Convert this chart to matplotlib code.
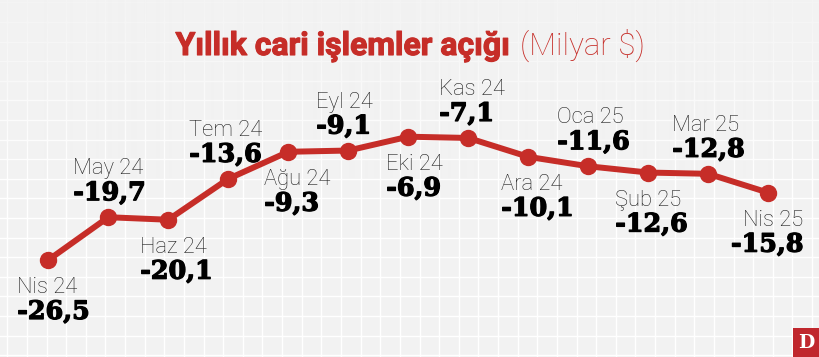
import numpy as np
import matplotlib
matplotlib.use('Agg')
import matplotlib.pyplot as plt
import matplotlib.patheffects as pe
from matplotlib.patches import Rectangle

# ---- data ----
months = ['Nis 24', 'May 24', 'Haz 24', 'Tem 24', 'Ağu 24', 'Eyl 24', 'Eki 24',
          'Kas 24', 'Ara 24', 'Oca 25', 'Şub 25', 'Mar 25', 'Nis 25']
deficit = [-26.5, -19.7, -20.1, -13.6, -9.3, -9.1, -6.9,
           -7.1, -10.1, -11.6, -12.6, -12.8, -15.8]
title_bold = 'Yıllık cari işlemler açığı'
title_unit = '(Milyar $)'
logo_text = 'D'

# ---- style ----
RED = '#c62d28'
BG = '#f2f2f2'
W, H, DPI = 820, 357, 100

fig = plt.figure(figsize=(W / DPI, H / DPI), dpi=DPI)
fig.patch.set_facecolor(BG)

# background grid paper
bg = fig.add_axes([0, 0, 1, 1], zorder=0)
bg.axis('off')
for gx in np.arange(7.3, W, 19.63):
    bg.axvline(gx, color='white', lw=1.0, zorder=1)
for gy in np.arange(2.3, H, 19.6):
    bg.axhline(gy, color='white', lw=1.0, zorder=1)
fade = np.zeros((H, 1, 4))
fade[..., :3] = matplotlib.colors.to_rgb(BG)
fade[:, 0, 3] = np.clip(1 - np.arange(H) / 180.0, 0, 1) * 0.85
bg.imshow(fade, extent=(0, W, H, 0), aspect='auto', zorder=2, interpolation='bilinear')
bg.set_xlim(0, W)
bg.set_ylim(H, 0)

# main chart
ax = fig.add_axes([0, 0, 1, 1], zorder=1)
ax.axis('off')
x = np.arange(len(months))
ax.plot(x, deficit, color=RED, lw=4.3, marker='o', ms=11.5, zorder=3)
ax.set_xlim(-0.805, 12.862)
ax.set_ylim(-41.92, 14.83)

bold_fx = [pe.withStroke(linewidth=0.9, foreground='black')]
label_dx = [-31, -35, -28, -39, -24, -32, -22, -29, -27, -31, -33, -36, 35]
for i, (m, v) in enumerate(zip(months, deficit)):
    above = (i % 2 == 1)
    ha = 'right' if i == len(months) - 1 else 'left'
    dy_m, dy_v = (43, 17) if above else (-33, -59)
    val = f'{v:.1f}'.replace('.', ',')
    ax.annotate(m, (i, v), xytext=(label_dx[i], dy_m), textcoords='offset pixels',
                ha=ha, va='baseline', fontsize=15.8, family='Roboto',
                weight='light', color='#1e1e1e', zorder=4)
    ax.annotate(val, (i, v), xytext=(label_dx[i], dy_v), textcoords='offset pixels',
                ha=ha, va='baseline', fontsize=18.3, family='DejaVu Serif',
                weight='bold', color='black', zorder=4, path_effects=bold_fx)

# title
ty = (H - 55) / H
t1 = fig.text(0, ty, title_bold, fontsize=23, weight='bold', family='Roboto',
              color=RED, va='baseline', ha='left',
              path_effects=[pe.withStroke(linewidth=0.8, foreground=RED)])
t2 = fig.text(0, ty, title_unit, fontsize=22.5, weight='light', family='Roboto',
              color=RED, va='baseline', ha='left')
fig.canvas.draw()
r = fig.canvas.get_renderer()
w1 = t1.get_window_extent(r).width
w2 = t2.get_window_extent(r).width
gap = 8
x0 = (W - (w1 + gap + w2)) / 2
t1.set_x(x0 / W)
t2.set_x((x0 + w1 + gap) / W)

# logo
lx, lh = 792.7, 28.7
fig.add_artist(Rectangle((lx / W, 0), (W - lx) / W, lh / H, transform=fig.transFigure,
                         facecolor='#c0272d', edgecolor='none', zorder=5))
fig.text((lx + W) / 2 / W, lh / 2 / H, logo_text, ha='center', va='center', color='white',
         fontsize=13.5, weight='bold', family='DejaVu Serif', zorder=6)

fig.savefig('out.png', dpi=DPI, facecolor=BG)
